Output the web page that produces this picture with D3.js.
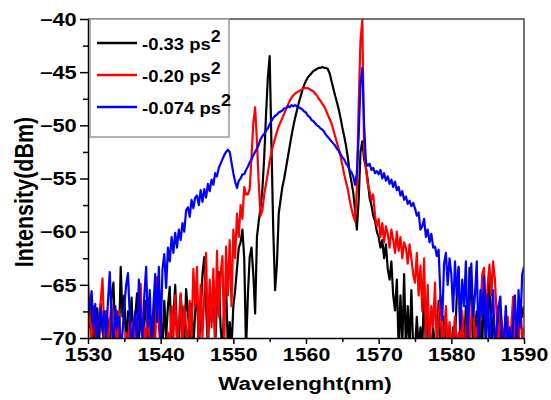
<!DOCTYPE html>
<html>
<head>
<meta charset="utf-8">
<script src="https://cdn.jsdelivr.net/npm/d3@7"></script>
<style>
body { margin: 0; background: #fff; }
text { font-family: "Liberation Sans", Arial, sans-serif; font-weight: bold; fill: #000; }
</style>
</head>
<body>
<script>
// DATA (sampled every 0.25 nm, 1530 -> 1590)

var wavelength = d3.range(0, 241).map(function(i){ return 1530 + i * 0.25; });

var black_values = [
	-67.5, -69, -66.3, -71, -68, -67.2, -71, -66.8, -69, -71, -67.5, -68.5, -71, -66, -64.8, -70, -67.5, -71, -63.3, -68,
	-66, -71, -67.5, -69, -66.2, -71, -68, -65.8, -70, -67, -71, -68.5, -66.5, -71, -67.8, -69, -71, -66, -68, -65.2,
	-68, -71, -66.5, -70, -67, -65.2, -71, -68, -65, -69.5, -71, -66, -68, -71, -65.4, -67.5, -70, -66.8, -71, -67.5,
	-65.5, -71, -68, -64, -62.4, -67, -71, -65.8, -68.5, -64.6, -71, -66.5, -63.8, -69, -71, -67, -65, -71, -68.5, -71,
	-67, -65.5, -63.5, -61.5, -61, -59.8, -62.5, -71, -66, -62.4, -61.5, -64, -67.7, -60.5, -59, -57.7, -56, -53, -49, -45.5,
	-43.5, -52, -60, -65.5, -63, -58.3, -57, -55.8, -55, -54, -53, -52, -51, -50.1, -49.3, -48.6, -47.9, -47.3, -46.7, -46.2,
	-45.8, -45.5, -45.3, -45.1, -44.9, -44.8, -44.7, -44.6, -44.6, -44.5, -44.6, -44.6, -44.7, -45.1, -45.8, -46.5, -47.2, -47.8, -48.5, -49.3,
	-50.2, -51.0, -51.9, -53.0, -54.4, -55.3, -56.3, -58, -59.8, -57, -52.5, -51.5, -53.2, -54, -55.2, -56.8, -57.5, -58.5, -59, -60,
	-60.5, -61.5, -60.8, -62.5, -61.2, -63.5, -64.5, -62.8, -66, -67.4, -64.5, -71, -66, -71, -64, -71, -67, -71, -65.5, -71,
	-71, -68, -71, -69, -71, -65.5, -71, -67.5, -71, -71, -69, -71, -71, -66.5, -71, -71, -68, -71, -71, -70,
	-71, -69, -70.5, -66, -63.3, -71, -68, -71, -67, -71, -63.4, -66.5, -71, -69, -67.5, -71, -68, -71, -65, -71,
	-66, -64.5, -71, -68, -70, -71, -67, -71, -69, -71, -68, -71, -69, -70, -71, -66.9, -71, -69, -66.5, -68,
	-67
];

var red_values = [
	-64.8, -68, -71, -67, -69, -71, -68, -66.5, -64.4, -70, -67.5, -71, -68.5, -66.8, -71, -69, -71, -67.5, -70, -71,
	-71, -69.5, -71, -68, -71, -68.4, -71, -70, -67, -64.9, -71, -69, -70, -66.4, -71, -68, -71, -70.5, -64.3, -69,
	-71, -71, -71, -71, -69.5, -71, -67, -70, -66, -71, -68.5, -65.8, -71, -67, -69, -71, -66.5, -70, -63.5, -67,
	-63.3, -71, -65, -70, -66, -62, -71, -64.5, -69, -63.5, -70, -61.8, -68, -64, -62.3, -71, -61.4, -66, -60.8, -67,
	-59.8, -62.5, -58.3, -60.5, -57.5, -58.8, -55.8, -56.5, -56.5, -56, -53, -49.8, -48.3, -51.5, -55.5, -58.5, -58, -56.5, -55.5, -54.5,
	-53.4, -52.5, -51.8, -51.2, -50.6, -50.1, -49.7, -49.3, -48.9, -48.5, -48.1, -47.7, -47.4, -47.2, -47.0, -46.9, -46.8, -46.7, -46.6, -46.5,
	-46.5, -46.5, -46.6, -46.7, -46.8, -47.0, -47.2, -47.5, -47.7, -48.0, -48.2, -48.6, -49.0, -49.4, -49.8, -50.4, -51.0, -51.6, -52.2, -52.9,
	-53.7, -54.6, -55.3, -56, -57, -57.8, -58.5, -59, -56, -48, -42, -40.1, -52.5, -54, -55.5, -56.2, -57, -56.5, -58.5, -59.5,
	-58.8, -60.5, -59.2, -61, -59.5, -60.2, -61.5, -59.8, -60.8, -62, -60, -61.8, -60.5, -62.5, -61, -61.5, -63, -61.2, -62.5, -64,
	-64.8, -62, -66, -63.2, -67.5, -62.5, -70, -65, -71, -67, -69, -64.8, -71, -68, -66, -71, -69.5, -67, -71, -68.5,
	-71, -70, -68, -71, -69.5, -71, -67.5, -71, -70, -66.5, -71, -68, -66.1, -71, -69, -71, -67.5, -64, -63.4, -68,
	-65, -63.1, -66, -62.8, -64.5, -68, -71, -67, -69, -71, -70, -68, -71, -69, -66.1, -71, -68, -71, -66.5, -70,
	-69
];

var blue_values = [
	-68, -67, -65.6, -69, -66.8, -71, -68, -67.2, -69.5, -67.5, -70, -66.5, -63.8, -68.5, -71, -67, -69, -68, -71, -69.5,
	-67, -65, -63.9, -68, -71, -69, -67.5, -71, -64.5, -68, -70, -66, -63.3, -69, -65.5, -71, -67, -64, -68.5, -63.3,
	-70, -63.5, -62.1, -65.3, -61.5, -62.8, -60.5, -62, -60.1, -61.5, -59.8, -60.8, -59.2, -60, -58, -57.7, -58.6, -57, -57.8, -56.8,
	-56.6, -57.5, -56.1, -57.2, -56, -56.8, -55.5, -56.2, -55.1, -55.6, -54.5, -54.8, -54, -53.6, -53.2, -52.8, -52.5, -52.3, -52.5, -53.5,
	-54.5, -55.3, -55.9, -55.2, -55, -54.6, -54.6, -54.2, -53.9, -53.5, -53.2, -52.8, -52.5, -52.2, -51.8, -51.3, -51, -50.8, -50.5, -50.3,
	-49.9, -49.6, -49.3, -49.1, -49.0, -48.8, -48.7, -48.6, -48.4, -48.4, -48.2, -48.3, -48.1, -48.2, -48.1, -48.2, -48.3, -48.4, -48.5, -48.7,
	-48.8, -49.1, -49.2, -49.5, -49.6, -49.8, -50.0, -50.1, -50.3, -50.4, -50.6, -50.9, -51.1, -51.3, -51.5, -51.7, -51.9, -52.2, -52.4, -52.7,
	-53.0, -53.2, -53.6, -53.8, -54.2, -54.4, -54.8, -55.6, -54.5, -51, -46, -44.6, -50, -53.5, -53.8, -53.6, -54.2, -54, -54.5, -54.3,
	-54.6, -54.2, -55, -54.5, -55.2, -54.8, -55.5, -55.1, -55.8, -55.3, -56.1, -55.8, -56.6, -56.2, -57, -56.7, -57.4, -57.1, -57.6, -57.3,
	-57.8, -58.5, -58.2, -59.8, -59.5, -58.8, -60.5, -59.8, -61, -60.2, -61.5, -61.4, -62.3, -61.7, -66, -68.3, -63, -62, -65, -62.5,
	-64, -67.5, -62.8, -66, -63.5, -69, -64.5, -67, -62.8, -70, -65, -63, -68, -66, -62.8, -71, -65.5, -68, -64.2, -70,
	-66, -71, -68, -65.5, -71, -69, -67, -66.1, -71, -70, -67, -71, -69, -71, -68.5, -66, -71, -65.5, -69, -64,
	-63.3
];

var series_names = ["-0.33 ps", "-0.20 ps", "-0.074 ps"];
var series_colors = ["#000000", "#ff0000", "#0000ff"];
var x_ticks = [1530, 1540, 1550, 1560, 1570, 1580, 1590];
var x_minor = [1535, 1545, 1555, 1565, 1575, 1585];
var y_ticks = [-70, -65, -60, -55, -50, -45, -40];
var y_minor = [-67.5, -62.5, -57.5, -52.5, -47.5, -42.5];

// SETUP

var width = 551, height = 400;
var plot = {"left": 88, "right": 524, "top": 19, "bottom": 338};

var svg = d3.select("body").append("svg")
	.attr("width", width)
	.attr("height", height);

var x = d3.scaleLinear().domain([1530, 1590]).range([plot.left, plot.right]);
var y = d3.scaleLinear().domain([-70, -40]).range([plot.bottom, plot.top]);

svg.append("clipPath").attr("id", "plot_clip")
	.append("rect")
	.attr("x", plot.left).attr("y", plot.top)
	.attr("width", plot.right - plot.left).attr("height", plot.bottom - plot.top);

// LINES

var all_values = [black_values, red_values, blue_values];
var line = d3.line()
	.x(function(d, i){ return x(wavelength[i]); })
	.y(function(d){ return y(d); });

svg.append("g").attr("clip-path", "url(#plot_clip)")
	.selectAll("path")
	.data(all_values)
	.enter()
	.append("path")
	.attr("d", line)
	.attr("fill", "none")
	.attr("stroke", function(d, i){ return series_colors[i]; })
	.attr("stroke-width", 2.2)
	.attr("stroke-linejoin", "round");

// FRAME (top + right)
svg.append("path")
	.attr("d", "M" + plot.left + "," + plot.top + "H" + plot.right + "V" + plot.bottom)
	.attr("fill", "none")
	.attr("stroke", "#444")
	.attr("stroke-width", 1.5);

// AXES

var x_axis = svg.append("g").attr("transform", "translate(0," + plot.bottom + ")")
	.call(d3.axisBottom(x).tickValues(x_ticks).tickSize(6).tickSizeOuter(0).tickFormat(d3.format("d")));
svg.append("g").attr("transform", "translate(0," + plot.bottom + ")")
	.call(d3.axisBottom(x).tickValues(x_minor).tickSize(4).tickFormat(""))
	.select(".domain").remove();

var y_axis = svg.append("g").attr("transform", "translate(" + plot.left + ",0)")
	.call(d3.axisLeft(y).tickValues(y_ticks).tickSize(8).tickSizeOuter(0).tickFormat(d3.format("d")));
svg.append("g").attr("transform", "translate(" + plot.left + ",0)")
	.call(d3.axisLeft(y).tickValues(y_minor).tickSize(5).tickFormat(""))
	.select(".domain").remove();

svg.selectAll(".domain, .tick line").attr("stroke", "#000").attr("stroke-width", 1.5);

x_axis.selectAll("text")
	.attr("font-size", 17.5).attr("font-family", null)
	.attr("y", 11).attr("dy", "0.71em")
	.attr("transform", "scale(1.22,1)");

y_axis.selectAll("text")
	.attr("font-size", 17.5).attr("font-family", null)
	.attr("x", -9).attr("dy", "0.36em")
	.attr("transform", "scale(1.25,1)");

// AXIS TITLES
svg.append("text")
	.attr("transform", "translate(305,390) scale(1.18,1)")
	.attr("text-anchor", "middle")
	.attr("font-size", 19)
	.text("Wavelenght(nm)");

svg.append("text")
	.attr("transform", "translate(33,192) scale(1.2,1) rotate(-90)")
	.attr("text-anchor", "middle")
	.attr("font-size", 21.5)
	.text("Intensity(dBm)");

// LEGEND
var legend = svg.append("g");
legend.append("rect")
	.attr("x", 90).attr("y", plot.top)
	.attr("width", 139).attr("height", 118)
	.attr("fill", "#fff")
	.attr("stroke", "#999")
	.attr("stroke-width", 1.5);

var legend_rows = legend.selectAll("g.row")
	.data(series_names)
	.enter()
	.append("g")
	.attr("class", "row")
	.attr("transform", function(d, i){ return "translate(0," + (43 + i * 32) + ")"; });

legend_rows.append("line")
	.attr("x1", 97).attr("x2", 137)
	.attr("stroke", function(d, i){ return series_colors[i]; })
	.attr("stroke-width", 2.5);

var legend_text = legend_rows.append("text")
	.attr("transform", "translate(142,7) scale(1.12,1)")
	.attr("font-size", 16.5);
legend_text.append("tspan").text(function(d){ return d; });
legend_text.append("tspan").attr("dy", -8).attr("font-size", 16).text("2");
</script>
</body>
</html>
